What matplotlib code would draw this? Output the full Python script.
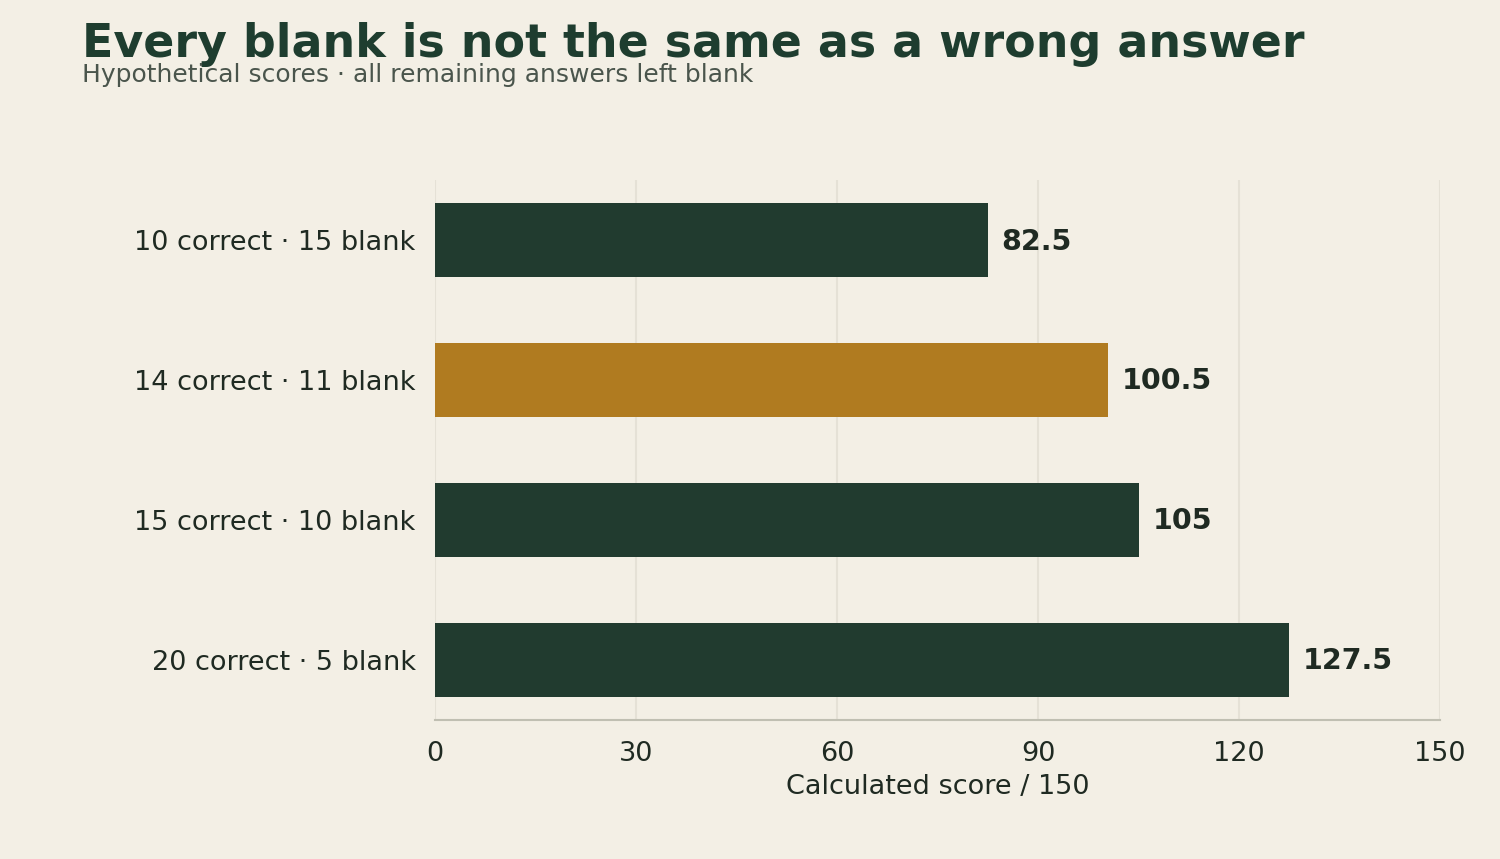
import matplotlib
matplotlib.use("Agg")
import matplotlib.pyplot as plt

# data
labels = ["10 correct · 15 blank", "14 correct · 11 blank",
          "15 correct · 10 blank", "20 correct · 5 blank"]
scores = [82.5, 100.5, 105, 127.5]
value_text = ["82.5", "100.5", "105", "127.5"]
highlight = 1
xticks = [0, 30, 60, 90, 120, 150]

BG = "#F3EFE5"
GREEN = "#213B2F"
GOLD = "#B07B20"
TEXT = "#1F2A22"

fig = plt.figure(figsize=(15, 8.59), dpi=100, facecolor=BG)
ax = fig.add_axes([0.29, 0.1618, 0.67, 0.6287], facecolor=BG)

colors = [GOLD if i == highlight else GREEN for i in range(len(scores))]
ypos = list(range(len(scores)))
ax.barh(ypos, scores, height=0.525, color=colors, zorder=3)

for y, s, t in zip(ypos, scores, value_text):
    ax.annotate(t, (s, y), xytext=(10, -1), textcoords="offset points",
                va="center", ha="left", fontsize=20.5, fontweight="bold",
                color=TEXT)

ax.set_xlim(0, 150)
ax.set_ylim(3.43, -0.43)
ax.set_xticks(xticks)
ax.set_xticklabels([str(v) for v in xticks])
ax.set_yticks(ypos)
ax.set_yticklabels(labels)
ax.tick_params(axis="both", length=0, labelsize=19.5, labelcolor=TEXT)
ax.tick_params(axis="y", pad=14)
ax.tick_params(axis="x", pad=15)
for lab in ax.get_yticklabels():
    lab.set_va("center_baseline")
ax.grid(axis="x", color="#E5E1D6", linewidth=1.5, zorder=0)
for side in ["top", "right", "left"]:
    ax.spines[side].set_visible(False)
ax.spines["bottom"].set_color("#C0BFB2")
ax.spines["bottom"].set_linewidth(1.5)
ax.set_xlabel("Calculated score / 150", fontsize=19.5, color=TEXT, labelpad=5)

fig.text(0.0547, 0.9336, "Every blank is not the same as a wrong answer",
         fontsize=33, fontweight="bold", color="#1E3D2F", va="baseline")
fig.text(0.0547, 0.9045, "Hypothetical scores · all remaining answers left blank",
         fontsize=18, color="#4A554C", va="baseline")

fig.savefig("out.png", dpi=100, facecolor=BG)
